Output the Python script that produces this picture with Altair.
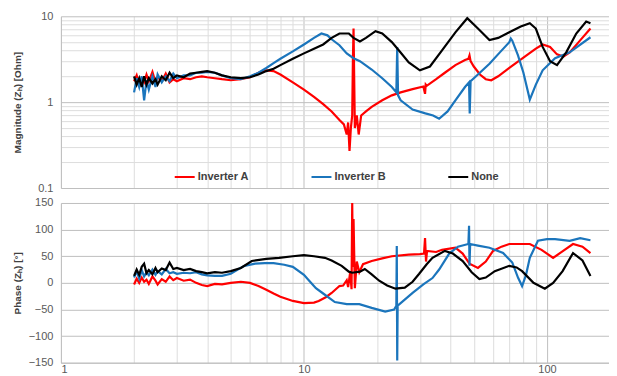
import altair as alt
import pandas as pd

series_names = ["Inverter A", "Inverter B", "None"]
series_colors = ["#FF0000", "#1B75BC", "#000000"]

# ---------- Magnitude |Zh| [Ohm] ----------
a_mag_f = [2.0, 2.05, 2.1, 2.15, 2.2, 2.25, 2.3, 2.38, 2.45, 2.5, 2.6, 2.7, 2.8, 2.9, 3.0, 3.2, 3.4, 3.6, 3.8, 4.0,
           4.3, 4.6, 5.0, 5.5, 6.0, 6.5, 7.0, 7.5, 8.0, 9.0, 10, 11, 12, 13, 14, 14.6, 15.0, 15.2, 15.4, 15.6,
           15.8, 15.9, 16.0, 16.2, 16.5, 16.8, 17.2, 18, 19, 21, 23, 25, 28, 31, 31.5, 31.7, 32, 35, 38, 42,
           46, 47.5, 48, 48.5, 50, 53, 56, 59, 63, 70, 80, 90, 96, 103, 110, 117, 124, 135, 151]
a_mag = [1.75, 2.05, 1.6, 1.9, 1.7, 2.1, 1.75, 2.25, 1.7, 1.95, 1.75, 2.15, 1.7, 1.85, 1.75, 1.9, 1.85, 1.95, 2.0, 1.95,
         1.9, 1.85, 1.8, 1.85, 1.95, 2.2, 2.35, 2.3, 2.1, 1.7, 1.4, 1.15, 0.95, 0.78, 0.62, 0.55, 0.42, 0.58, 0.27, 0.5,
         0.7, 3.0, 7.2, 0.5, 0.7, 0.42, 0.7, 0.78, 0.88, 1.05, 1.2, 1.3, 1.42, 1.52, 1.25, 1.6, 1.55, 1.85, 2.2, 2.7,
         3.1, 3.2, 3.5, 3.0, 2.6, 2.1, 1.85, 1.8, 2.0, 2.5, 3.3, 4.2, 4.7, 4.4, 3.6, 3.4, 3.8, 5.0, 7.2]

b_mag_f = [2.0, 2.05, 2.1, 2.15, 2.2, 2.25, 2.3, 2.38, 2.45, 2.5, 2.6, 2.7, 2.8, 2.9, 3.0, 3.2, 3.4, 3.6, 3.8, 4.0,
           4.3, 4.6, 5.0, 5.5, 6.0, 6.5, 7.0, 7.5, 8.0, 9.0, 10, 11, 11.8, 12.5, 13, 14, 15, 16, 17, 19,
           21, 23, 24, 24.2, 24.4, 25, 28, 31.6, 34, 36, 39, 42, 46, 47.8, 48.1, 48.5, 52, 58, 64, 70,
           71, 72, 76, 80, 85, 90, 96, 108, 124, 151]
b_mag = [1.3, 1.9, 1.5, 2.0, 1.05, 1.8, 1.4, 2.0, 1.5, 2.1, 1.7, 2.0, 1.75, 2.15, 1.9, 2.05, 2.05, 2.2, 2.2, 2.25,
         2.2, 2.05, 1.9, 1.85, 2.0, 2.2, 2.5, 2.85, 3.2, 3.9, 4.7, 5.6, 6.3, 6.0, 5.4, 4.6, 3.7, 3.25, 3.0, 2.4,
         1.9, 1.5, 1.3, 4.4, 1.2, 1.05, 0.82, 0.74, 0.7, 0.64, 0.78, 1.05, 1.5, 1.7, 0.74, 1.75, 2.1, 2.8, 3.8, 5.0,
         5.5, 5.2, 3.5, 2.2, 1.07, 1.6, 2.35, 3.25, 3.8, 5.7]

n_mag_f = [2.0, 2.05, 2.1, 2.15, 2.2, 2.25, 2.3, 2.38, 2.45, 2.5, 2.6, 2.7, 2.8, 2.9, 3.0, 3.2, 3.4, 3.6, 3.8, 4.0,
           4.3, 4.6, 5.0, 5.5, 6.0, 6.5, 7.0, 7.5, 8.0, 9.0, 10, 11, 12, 13, 14, 15.3, 16, 17, 18, 19.7,
           21, 23, 24.6, 27, 30, 33, 37, 42, 47, 52, 58, 63, 70, 78, 85, 90, 96, 103, 110, 120,
           132, 145, 151]
n_mag = [2.0, 1.6, 1.9, 1.5, 2.0, 1.6, 1.9, 1.65, 1.85, 1.6, 2.0, 1.8, 2.2, 1.9, 2.05, 1.95, 2.15, 2.2, 2.25, 2.3,
         2.2, 2.05, 1.95, 1.9, 1.95, 2.1, 2.3, 2.45, 2.7, 3.2, 3.7, 4.2, 4.7, 5.6, 6.3, 6.3, 5.6, 5.1, 5.6, 6.7,
         6.3, 5.0, 4.0, 2.9, 2.35, 2.6, 4.0, 6.5, 9.5, 7.2, 5.3, 5.6, 6.5, 7.6, 8.3, 7.2, 4.4, 3.0, 2.7, 3.8,
         6.3, 8.7, 8.3]

# ---------- Phase (Zh) [deg] ----------
a_ph_f = [2.0, 2.05, 2.1, 2.15, 2.2, 2.25, 2.3, 2.38, 2.45, 2.5, 2.6, 2.7, 2.8, 2.9, 3.0, 3.2, 3.4, 3.6, 3.8, 4.0,
          4.3, 4.6, 5.0, 5.5, 6.0, 6.5, 7.0, 7.5, 8.0, 9.0, 10, 11, 11.5, 12.3, 13, 14, 14.5, 15.0, 15.2, 15.5,
          15.7, 15.8, 15.9, 16.0, 16.2, 16.5, 16.9, 17.5, 19, 21, 23, 27, 30, 31.2, 31.5, 31.8, 32.1, 35, 37, 42,
          45, 48, 52, 56, 60, 65, 70, 85, 95, 106, 115, 128, 140, 151]
a_ph = [-3, 8, 0, 10, 2, 6, -2, 12, 4, -3, 7, 2, 12, 5, 9, 4, 6, 0, -4, -6,
        -2, -3, 0, 2, 0, -6, -13, -20, -26, -34, -38, -37, -34, -27, -19, -6, -5, 5, -8, 20,
        -12, 150, 30, 120, -10, 40, 20, 35, 41, 46, 50, 53, 54, 55, 84, 40, 60, 58, 62, 66,
        55, 36, 28, 40, 60, 68, 73, 73, 62, 47, 58, 73, 68, 56]

b_ph_f = [2.0, 2.05, 2.1, 2.15, 2.2, 2.25, 2.3, 2.38, 2.45, 2.5, 2.6, 2.7, 2.8, 2.9, 3.0, 3.2, 3.4, 3.6, 3.8, 4.0,
          4.3, 4.6, 5.0, 5.3, 5.7, 6.3, 6.9, 7.5, 8.3, 9.0, 10, 10.6, 11.2, 12, 13.4, 15, 16.9, 19, 21.6, 23.5,
          24, 24.1, 24.2, 24.3, 25, 28, 31, 33.8, 36, 39.6, 43, 47.5, 47.8, 48, 48.3, 52, 58, 66, 72, 76,
          79, 82, 85, 91.8, 100, 108, 124, 137, 151]
b_ph = [10, 22, 8, 24, 12, 20, 14, 25, 15, 22, 16, 26, 18, 20, 17, 19, 18, 20, 16, 14,
        13, 13, 17, 24, 32, 36, 37, 37, 34, 30, 15, 2, -10, -20, -36, -40, -40, -47, -54, -50,
        -43, 69, -146, -43, -38, -19, -3, 9, 25, 55, 68, 73, 107, 32, 73, 70, 66, 56, 38, 10,
        -6, 15, 47, 79, 82, 82, 79, 84, 80]

n_ph_f = [2.0, 2.05, 2.1, 2.15, 2.2, 2.25, 2.3, 2.38, 2.45, 2.5, 2.6, 2.7, 2.8, 2.9, 3.0, 3.2, 3.4, 3.6, 3.8, 4.0,
          4.3, 4.6, 5.0, 5.5, 6.1, 7.0, 7.9, 9, 10, 11, 12.2, 13, 14.3, 15.3, 15.8, 17, 17.8, 19, 20.4, 22,
          23.8, 26, 28, 29.8, 32, 33.8, 38, 41, 45, 49, 52.7, 56, 61, 70, 75, 79, 88, 98, 106, 116,
          128, 140, 151]
n_ph = [13, 25, 15, 30, 36, 18, 24, 16, 28, 20, 27, 24, 38, 26, 28, 24, 26, 22, 20, 18,
        20, 19, 22, 28, 41, 45, 47, 50, 52, 50, 47, 42, 32, 21, 19, 21, 26, 16, 4, -5,
        -11, -9, 2, 17, 35, 47, 60, 55, 41, 20, 7, 10, 22, 32, 29, 22, 0, -11, 0, 22,
        56, 42, 13]

x_ticks = [1, 2, 3, 4, 5, 6, 7, 8, 9, 10, 20, 30, 40, 50, 60, 70, 80, 90, 100]
mag_ticks = [0.1, 0.2, 0.3, 0.4, 0.5, 0.6, 0.7, 0.8, 0.9, 1, 2, 3, 4, 5, 6, 7, 8, 9, 10]
ph_ticks = [-150, -100, -50, 0, 50, 100, 150]


def frame(fs, vs, name):
    return pd.DataFrame({"f": fs, "v": vs, "s": name, "i": list(range(len(fs)))})


mag_df = pd.concat([frame(a_mag_f, a_mag, series_names[0]),
                    frame(b_mag_f, b_mag, series_names[1]),
                    frame(n_mag_f, n_mag, series_names[2])])
ph_df = pd.concat([frame(a_ph_f, a_ph, series_names[0]),
                   frame(b_ph_f, b_ph, series_names[1]),
                   frame(n_ph_f, n_ph, series_names[2])])

W = 549
FONT = "Liberation Sans"
minor_grid = "#DDDDDD"
major_grid = "#BFBFBF"

x_grid_color = {"condition": {"test": "datum.value == 10 || datum.value == 100", "value": major_grid},
                "value": minor_grid}
y_grid_color = {"condition": {"test": "datum.value == 1 || datum.value == 10 || datum.value == 0.1",
                              "value": major_grid}, "value": minor_grid}

x_scale = alt.Scale(type="log", domain=[1, 180], nice=False)

top = alt.Chart(mag_df).mark_line(strokeWidth=2.2, clip=True).encode(
    x=alt.X("f:Q", scale=x_scale,
            axis=alt.Axis(values=x_ticks, labels=False, ticks=False, title=None,
                          gridColor=x_grid_color, domain=False)),
    y=alt.Y("v:Q", scale=alt.Scale(type="log", domain=[0.1, 10], nice=False),
            axis=alt.Axis(values=mag_ticks, gridColor=y_grid_color,
                          labelExpr="(datum.value == 0.1 || datum.value == 1 || datum.value == 10) ? datum.value : ''",
                          title="Magnitude (Zₕ) [Ohm]", titleX=-38, titleY=86, ticks=False, labelPadding=8)),
    color=alt.Color("s:N", scale=alt.Scale(domain=series_names, range=series_colors),
                    legend=alt.Legend(orient="none", legendX=113, legendY=150, direction="horizontal",
                                      title=None, symbolType="stroke", symbolSize=400, symbolStrokeWidth=2,
                                      labelFont=FONT, labelFontSize=11, labelFontWeight="bold",
                                      labelColor="#404040", columnPadding=58, labelOffset=2, padding=0)),
    detail="s:N",
    order="i:Q",
).properties(width=W, height=172)

bottom = alt.Chart(ph_df).mark_line(strokeWidth=2.2, clip=True).encode(
    x=alt.X("f:Q", scale=x_scale,
            axis=alt.Axis(values=x_ticks, gridColor=x_grid_color, title=None, ticks=False,
                          labelExpr="(datum.value == 1 || datum.value == 10 || datum.value == 100) ? datum.value : ''",
                          labelPadding=1)),
    y=alt.Y("v:Q", scale=alt.Scale(domain=[-150, 150], nice=False),
            axis=alt.Axis(values=ph_ticks, gridColor=major_grid, title="Phase (Zₕ) [°]",
                          titleX=-38, titleY=80, ticks=False, labelPadding=8)),
    color=alt.Color("s:N", scale=alt.Scale(domain=series_names, range=series_colors), legend=None),
    detail="s:N",
    order="i:Q",
).properties(width=W, height=160)

chart = alt.vconcat(top, bottom, spacing=4).resolve_legend(color="independent").properties(
    padding={"left": 5, "top": 2, "right": 0, "bottom": 0}
).configure_view(strokeWidth=0).configure_axis(
    labelFont=FONT, labelFontSize=11, labelColor="#595959",
    titleFont=FONT, titleFontSize=10, titleFontWeight="bold", titleColor="#404040",
    domainColor=major_grid, gridWidth=1,
)

chart.save("out.html", embed_options={"renderer": "svg", "actions": False})
